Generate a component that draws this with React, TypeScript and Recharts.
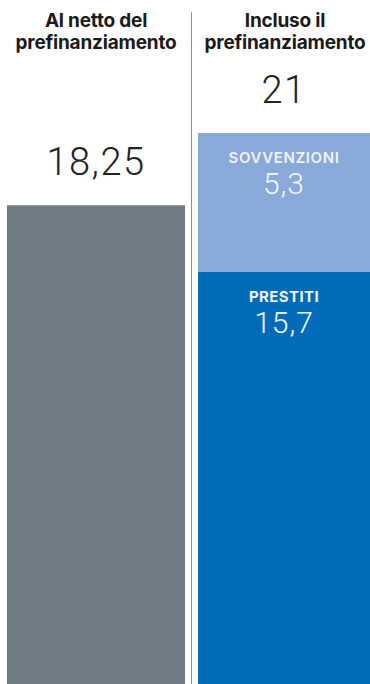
import React from 'react';
import { BarChart, Bar, XAxis, YAxis, LabelList } from 'recharts';

// ============ DATI ============
const headers = [
  ['Al netto del', 'prefinanziamento'],
  ['Incluso il', 'prefinanziamento'],
];
const netto = [18.25];
const prestiti = [15.7];
const sovvenzioni = [5.3];
const totale = [21];
const segmentNames = ['PRESTITI', 'SOVVENZIONI'];

const leftData = [{ name: headers[0].join(' '), netto: netto[0] }];
const rightData = [
  {
    name: headers[1].join(' '),
    prestiti: prestiti[0],
    sovvenzioni: sovvenzioni[0],
    totale: totale[0],
  },
];

const fmt = (v: number) => String(v).replace('.', ',');

const numFont = 'Roboto, "Noto Sans", sans-serif';
const labelFont = 'Inter, "Noto Sans", sans-serif';

// valore grande sopra la barra
const TopValue = (props: any) => {
  const { x, y, width, value } = props;
  return (
    <text
      x={x + width / 2}
      y={y - 30}
      textAnchor="middle"
      fontFamily={numFont}
      fontWeight={300}
      fontSize={38}
      letterSpacing={1.5}
      fill="#222"
    >
      {fmt(value)}
    </text>
  );
};

// etichetta + valore dentro il segmento
const inside = (label: string) => (props: any) => {
  const { x, y, width, value } = props;
  const cx = x + width / 2;
  return (
    <g>
      <text
        x={cx}
        y={y + 30}
        textAnchor="middle"
        fontFamily={labelFont}
        fontWeight={label === 'PRESTITI' ? 700 : 600}
        fontSize={15}
        letterSpacing={label === 'PRESTITI' ? 0.4 : 0.6}
        fill="#eef3fb"
      >
        {label}
      </text>
      <text
        x={cx}
        y={y + 61}
        textAnchor="middle"
        fontFamily={numFont}
        fontWeight={300}
        fontSize={30}
        letterSpacing={1}
        fill="#f4f7fc"
      >
        {fmt(value)}
      </text>
    </g>
  );
};

const headerStyle: React.CSSProperties = {
  position: 'absolute',
  top: 10,
  textAlign: 'center',
  fontFamily: 'Inter, "Noto Sans", sans-serif',
  fontWeight: 700,
  fontSize: 19,
  lineHeight: '22px',
  letterSpacing: -0.2,
  color: '#1a1a1a',
  whiteSpace: 'nowrap',
};

export default function App() {
  return (
    <div
      style={{
        position: 'absolute',
        left: 0,
        top: 0,
        width: 370,
        height: 684,
        background: '#fff',
        overflow: 'hidden',
      }}
    >
      <div style={{ ...headerStyle, left: 0, width: 192 }}>
        {headers[0][0]}
        <br />
        {headers[0][1]}
      </div>
      <div style={{ ...headerStyle, left: 196, width: 178 }}>
        {headers[1][0]}
        <br />
        {headers[1][1]}
      </div>

      {/* linea divisoria */}
      <div
        style={{
          position: 'absolute',
          left: 191,
          top: 12,
          width: 1,
          height: 672,
          background: '#8c8c8c',
        }}
      />

      <div style={{ position: 'absolute', left: 7, top: 0 }}>
        <BarChart
          width={178}
          height={684}
          data={leftData}
          margin={{ top: 133, right: 0, bottom: 0, left: 0 }}
          barCategoryGap={0}
        >
          <XAxis dataKey="name" hide />
          <YAxis domain={[0, 21]} hide />
          <Bar dataKey="netto" fill="#6f7b80" isAnimationActive={false}>
            <LabelList dataKey="netto" content={TopValue} />
          </Bar>
        </BarChart>
      </div>

      <div style={{ position: 'absolute', left: 198, top: 0 }}>
        <BarChart
          width={172}
          height={684}
          data={rightData}
          margin={{ top: 133, right: 0, bottom: 0, left: 0 }}
          barCategoryGap={0}
        >
          <XAxis dataKey="name" hide />
          <YAxis domain={[0, 21]} hide />
          <Bar dataKey="prestiti" stackId="a" fill="#006cb8" isAnimationActive={false}>
            <LabelList dataKey="prestiti" content={inside(segmentNames[0])} />
          </Bar>
          <Bar dataKey="sovvenzioni" stackId="a" fill="#89a9d8" isAnimationActive={false}>
            <LabelList dataKey="sovvenzioni" content={inside(segmentNames[1])} />
            <LabelList dataKey="totale" content={TopValue} />
          </Bar>
        </BarChart>
      </div>
    </div>
  );
}
